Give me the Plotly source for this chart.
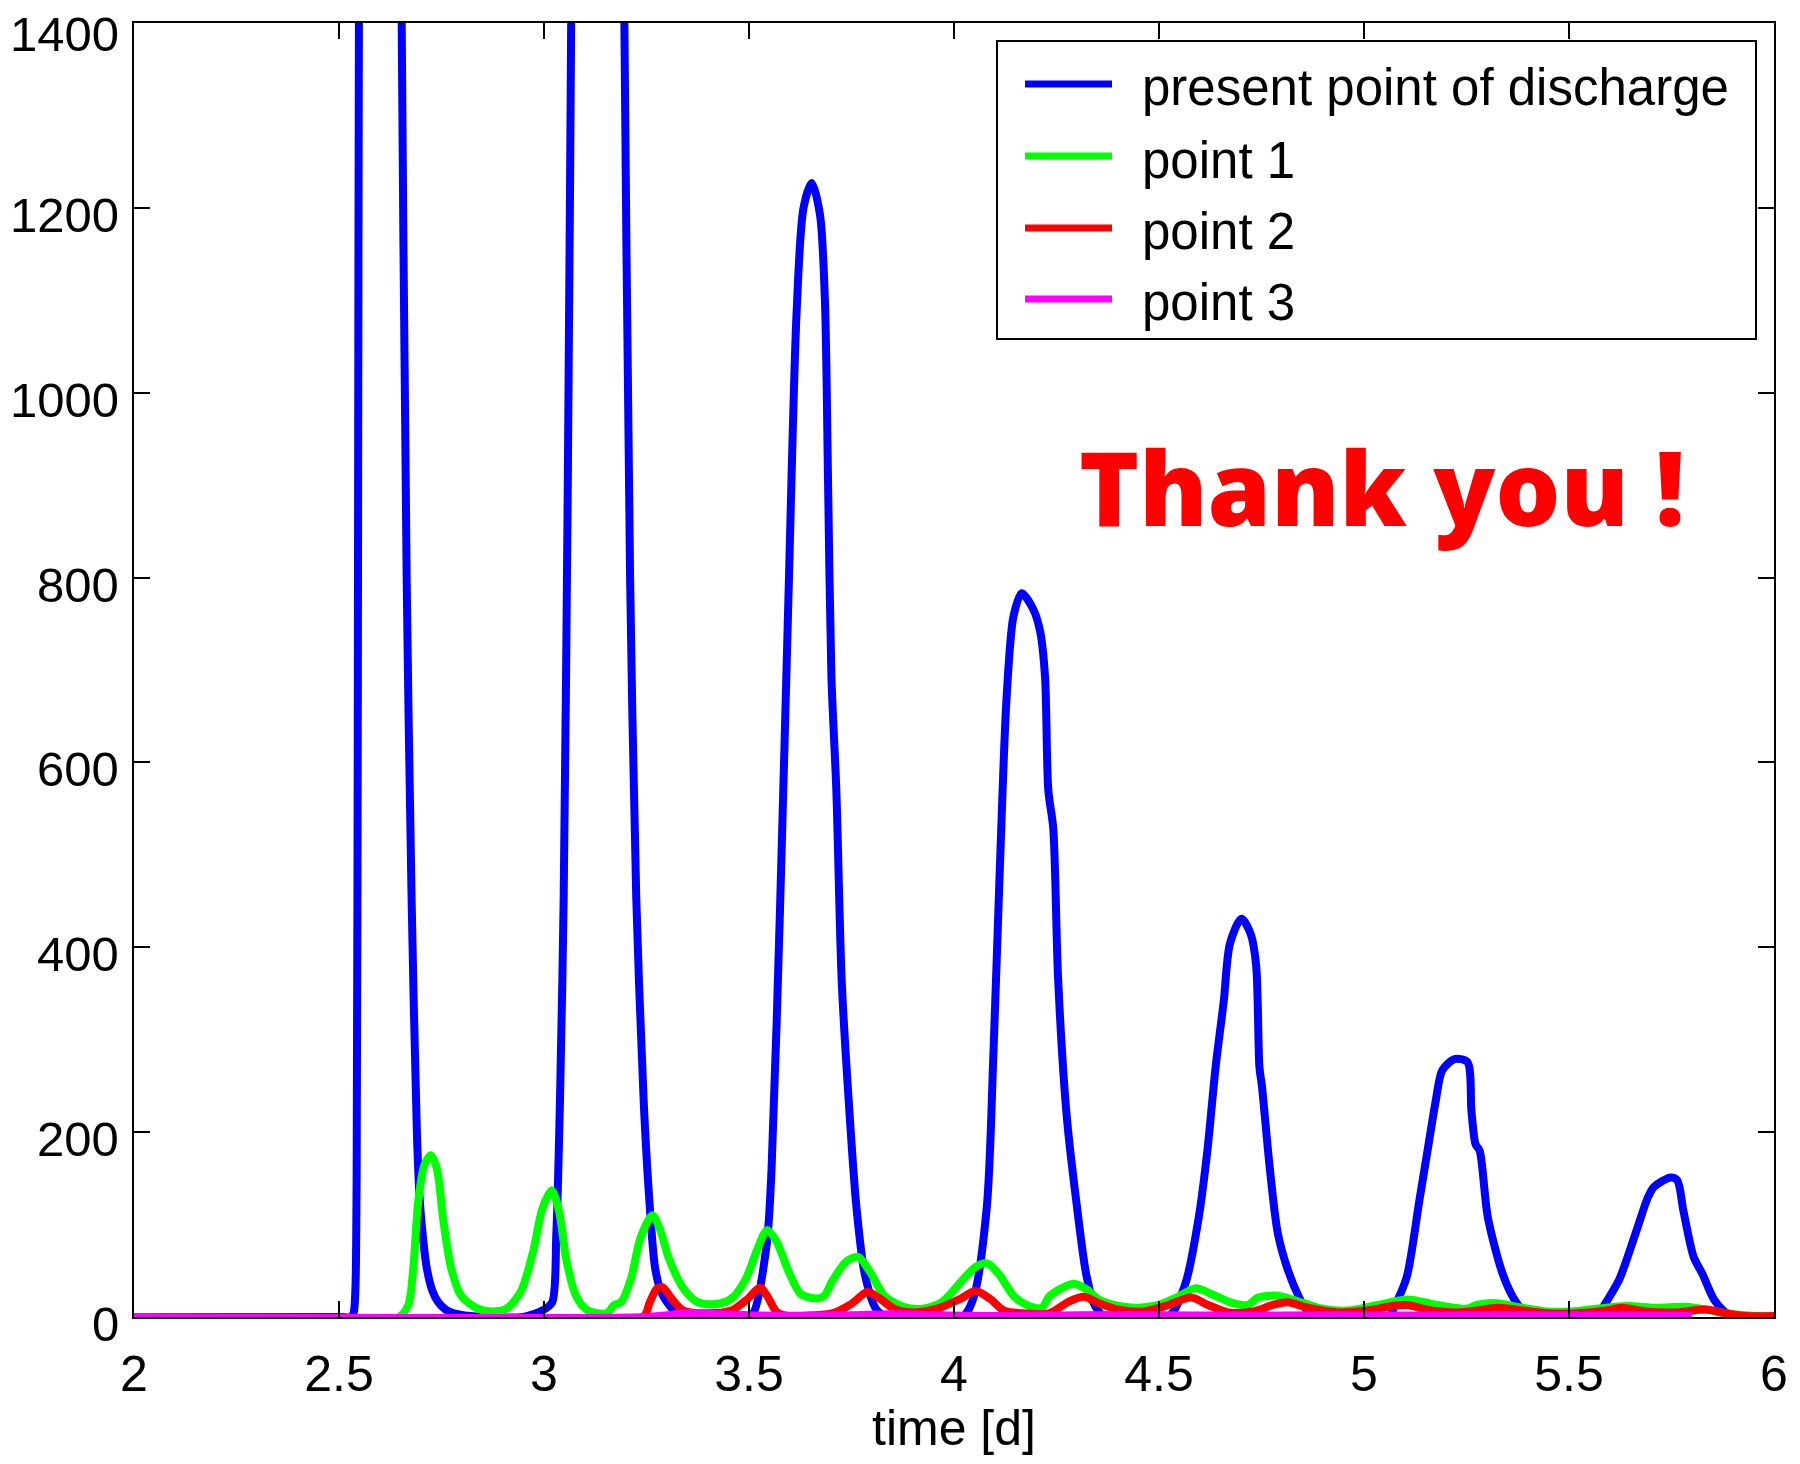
import plotly.graph_objects as go

# ---------------- data ----------------
x_ticks = [2, 2.5, 3, 3.5, 4, 4.5, 5, 5.5, 6]
y_ticks = [0, 200, 400, 600, 800, 1000, 1200, 1400]
x_title = "time [d]"
series_names = ["present point of discharge", "point 1", "point 2", "point 3"]
series_colors = ["#0000ff", "#00ff00", "#ff0000", "#ff00ff"]

t_discharge = [2.00, 2.50, 2.530, 2.536, 2.540, 2.543, 2.546, 2.549, 2.56, 2.60, 2.64, 2.652,
               2.665, 2.677, 2.690, 2.697, 2.705, 2.714, 2.728, 2.742, 2.76, 2.78, 2.82, 2.85,
               2.95, 2.974, 3.00, 3.02, 3.03, 3.039, 3.048, 3.058, 3.067, 3.08, 3.13, 3.18,
               3.195, 3.21, 3.225, 3.243, 3.257, 3.271, 3.285, 3.30, 3.327, 3.36,
               3.49, 3.51, 3.543, 3.555, 3.576, 3.596, 3.616, 3.633, 3.653, 3.673, 3.685,
               3.693, 3.701, 3.713, 3.726, 3.742, 3.762, 3.783, 3.811, 3.84,
               4.02, 4.047, 4.08, 4.096, 4.112, 4.128, 4.145, 4.165, 4.193, 4.21, 4.222,
               4.23, 4.242, 4.254, 4.275, 4.30, 4.323, 4.344, 4.37,
               4.52, 4.537, 4.567, 4.597, 4.618, 4.638, 4.658, 4.673, 4.701, 4.724, 4.737,
               4.745, 4.751, 4.77, 4.79, 4.815, 4.841, 4.861, 4.89,
               5.06, 5.074, 5.104, 5.135, 5.155, 5.175, 5.191, 5.221, 5.252, 5.262, 5.272,
               5.282, 5.302, 5.338, 5.368, 5.388, 5.41,
               5.57, 5.581, 5.622, 5.662, 5.693, 5.708, 5.748, 5.764, 5.779, 5.804, 5.825,
               5.855, 5.885, 5.91, 6.00]
q_discharge = [0, 0, 0, 5, 30, 150, 700, 1500, 2600, 3200, 2400, 1450,
               800, 454, 199, 126, 85, 53, 28, 16, 8, 4, 1, 0,
               0, 3, 8, 16, 89, 235, 454, 900, 1450, 2400, 3000, 2300,
               1450, 800, 454, 235, 126, 53, 28, 16, 3, 0,
               0, 4, 78, 160, 447, 775, 1086, 1200, 1227, 1193, 1102,
               898, 693, 570, 365, 242, 119, 45, 8, 0,
               0, 20, 119, 283, 488, 668, 758, 783, 766, 742, 693,
               570, 529, 365, 217, 119, 45, 12, 0,
               0, 7, 40, 108, 180, 270, 342, 404, 431, 414, 380,
               270, 250, 162, 90, 50, 22, 7, 0,
               0, 11, 43, 126, 180, 234, 267, 279, 276, 223, 187,
               180, 108, 47, 18, 7, 0,
               0, 9, 40, 90, 130, 141, 151, 148, 115, 65, 47,
               18, 4, 0, 0]

t_point1 = [2.00, 2.646, 2.669, 2.681, 2.693, 2.708, 2.724, 2.739, 2.754, 2.774, 2.798, 2.838,
            2.873, 2.908, 2.943, 2.973, 2.996, 3.019, 3.037, 3.054, 3.078, 3.107, 3.153,
            3.171, 3.188, 3.212, 3.235, 3.264, 3.282, 3.305, 3.34, 3.375, 3.422, 3.457,
            3.492, 3.521, 3.544, 3.568, 3.597, 3.626, 3.661, 3.684, 3.702, 3.737, 3.766,
            3.795, 3.83, 3.877, 3.924, 3.97, 4.017, 4.052, 4.081, 4.11, 4.147, 4.183,
            4.214, 4.232, 4.262, 4.292, 4.323, 4.353, 4.402, 4.45, 4.499, 4.547, 4.59,
            4.632, 4.681, 4.717, 4.742, 4.79, 4.839, 4.899, 4.96, 5.033, 5.106, 5.178,
            5.251, 5.275, 5.324, 5.373, 5.445, 5.506, 5.567, 5.64, 5.712, 5.785, 5.834,
            5.882, 5.955, 6.00]
q_point1 = [0, 0, 13, 52, 124, 164, 175, 160, 106, 52, 23, 9,
            6, 9, 27, 70, 117, 137, 114, 63, 23, 7, 4,
            13, 16, 41, 85, 110, 96, 63, 31, 16, 14, 20,
            41, 74, 94, 81, 49, 25, 20, 23, 38, 60, 65,
            49, 23, 11, 9, 16, 38, 54, 58, 46, 22, 12,
            10, 22, 31, 36, 30, 19, 12, 10, 13, 22, 31,
            24, 15, 13, 21, 23, 17, 9, 7, 13, 19, 13,
            9, 13, 15, 11, 6, 6, 9, 12, 10, 11, 8,
            4, 1, 1]

t_point2 = [2.00, 3.241, 3.258, 3.276, 3.29, 3.311, 3.34, 3.398, 3.457, 3.498, 3.527, 3.544,
            3.568, 3.585, 3.702, 3.749, 3.789, 3.819, 3.854, 3.90, 3.959, 4.017, 4.052,
            4.087, 4.122, 4.169, 4.232, 4.281, 4.317, 4.353, 4.402, 4.462, 4.523, 4.578,
            4.62, 4.669, 4.729, 4.778, 4.814, 4.863, 4.936, 5.008, 5.069, 5.106, 5.154,
            5.227, 5.275, 5.324, 5.373, 5.445, 5.518, 5.591, 5.627, 5.688, 5.761, 5.834,
            5.882, 5.931, 6.00]
q_point2 = [0, 0, 16, 31, 32, 20, 7, 4, 7, 20, 32, 23,
            5, 2, 4, 14, 27, 20, 9, 5, 9, 20, 28,
            20, 7, 4, 4, 17, 22, 15, 8, 6, 13, 21,
            13, 5, 6, 13, 16, 10, 5, 7, 12, 13, 8,
            5, 7, 10, 8, 4, 4, 7, 10, 6, 5, 8,
            4, 1, 1]

t_point3 = [2.00, 3.25, 3.30, 3.35, 3.42, 3.50, 3.60, 3.75, 3.85, 3.95, 4.10, 4.30, 4.50,
            4.70, 4.90, 5.10, 5.30, 5.50, 5.70, 5.80]
q_point3 = [0, 0, 2, 4, 3, 2, 1, 2, 3, 2, 1, 2, 2,
            1.5, 2, 1.5, 2, 1.5, 1.5, 1]

# ---------------- layout geometry ----------------
# The page body adds an 8 px offset, so the figure is 16 px smaller than the window
# and margins are expressed relative to the figure.
OFF = 8
W, H = 1800 - 2 * OFF, 1464 - 2 * OFF
# plot area in page pixels
L, R, T, B = 134, 1774, 23, 1317


def px(xpix):
    return (xpix - L) / (R - L)


def py(ypix):
    return 1 - (ypix - T) / (B - T)


FONT = "Liberation Sans, Arial, Helvetica, sans-serif"

fig = go.Figure()
all_t = [t_discharge, t_point1, t_point2, t_point3]
all_q = [q_discharge, q_point1, q_point2, q_point3]
for name, color, tt, qq in zip(series_names, series_colors, all_t, all_q):
    fig.add_trace(go.Scatter(x=tt, y=qq, mode="lines", name=name,
                             line=dict(color=color, width=8, shape="spline", smoothing=0.8),
                             showlegend=False))

shapes = []
annotations = []

# y tick labels (sit slightly below their ticks, as in the reference;
# the top one is kept inside the figure)
for v in y_ticks:
    shift = -11 if v == max(y_ticks) else -7
    annotations.append(dict(text=str(v), xref="paper", yref="y", x=0, y=v,
                            xanchor="right", yanchor="middle", xshift=-13, yshift=shift,
                            showarrow=False, font=dict(family=FONT, size=49, color="black")))

# legend box
shapes.append(dict(type="rect", xref="paper", yref="paper",
                   x0=px(997), x1=px(1756), y0=py(339), y1=py(41),
                   line=dict(color="black", width=2), fillcolor="white", layer="above"))
sample_y = [84, 156, 228, 299]
text_y = [88, 160, 231, 303]
for name, color, sy, ty in zip(series_names, series_colors, sample_y, text_y):
    shapes.append(dict(type="line", xref="paper", yref="paper",
                       x0=px(1025), x1=px(1112), y0=py(sy), y1=py(sy),
                       line=dict(color=color, width=7), layer="above"))
    annotations.append(dict(text=name, xref="paper", yref="paper",
                            x=px(1140), y=py(ty), xanchor="left", yanchor="middle",
                            showarrow=False, font=dict(family=FONT, size=51, color="black")))

annotations.append(dict(text="Thank you !", xref="paper", yref="paper",
                        x=px(1077), y=py(487), xanchor="left", yanchor="middle",
                        showarrow=False,
                        font=dict(family="Open Sans", size=102, color="#ff0000", weight=800)))

axis_common = dict(showline=True, linecolor="black", linewidth=2, mirror="allticks",
                   ticks="inside", ticklen=16, tickwidth=1.5, tickcolor="black",
                   showgrid=False, zeroline=False, automargin=False,
                   ticklabeloverflow="allow",
                   tickfont=dict(family=FONT, size=50, color="black"))

fig.update_layout(
    width=W, height=H,
    margin=dict(l=L - OFF, r=W - (R - OFF), t=T - OFF, b=H - (B - OFF), pad=0),
    paper_bgcolor="white", plot_bgcolor="white",
    xaxis=dict(range=[2, 6], tickvals=x_ticks, ticktext=[f"{v:g}" for v in x_ticks],
               ticklabelstandoff=12,
               title=dict(text=x_title, font=dict(family=FONT, size=50, color="black"),
                          standoff=37),
               **axis_common),
    yaxis=dict(range=[0, 1400], tickvals=y_ticks, showticklabels=False,
               **axis_common),
    shapes=shapes, annotations=annotations,
    showlegend=False,
)

fig.write_html("out.html")
